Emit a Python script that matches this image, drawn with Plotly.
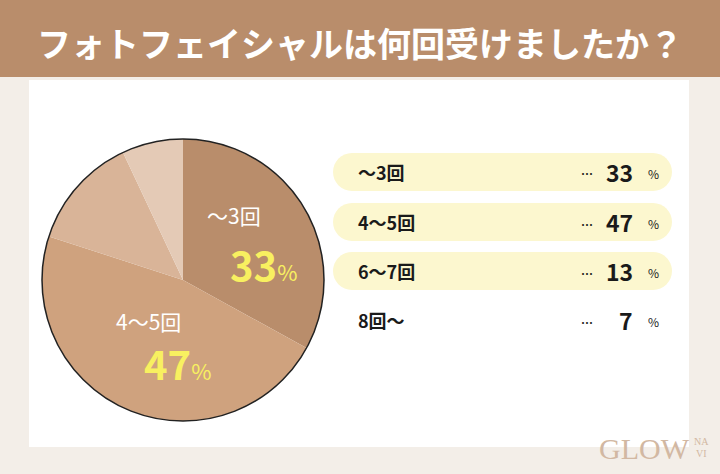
import plotly.graph_objects as go

title_text = "フォトフェイシャルは何回受けましたか？"
categories = ["～3回", "4～5回", "6～7回", "8回～"]
values = [33, 47, 13, 7]
slice_colors = ["#B98D6B", "#CFA27E", "#D9B498", "#E4CAB6"]
pill_rows = [True, True, True, False]

W, H = 720, 474
cx, cy, r = 183, 280, 141

def px(x):
    return x / W

def py(y):
    return 1 - y / H

fig = go.Figure()

dom = dict(x=[px(cx - r), px(cx + r)], y=[py(cy + r), py(cy - r)])
fig.add_trace(go.Pie(
    labels=categories, values=values, sort=False, direction="clockwise",
    rotation=0, marker=dict(colors=slice_colors, line=dict(width=0)),
    textinfo="none", hoverinfo="label+percent", showlegend=False, domain=dom,
))
fig.add_trace(go.Pie(
    labels=["outline"], values=[1], sort=False,
    marker=dict(colors=["rgba(0,0,0,0)"], line=dict(color="#222222", width=1.5)),
    textinfo="none", hoverinfo="skip", showlegend=False, domain=dom,
))

shapes = []
shapes.append(dict(type="rect", xref="paper", yref="paper", x0=px(29), x1=px(689),
                   y0=py(447), y1=py(80), fillcolor="#FFFFFF", line=dict(width=0), layer="below"))
shapes.append(dict(type="rect", xref="paper", yref="paper", x0=0, x1=1,
                   y0=py(77), y1=1, fillcolor="#B98D6B", line=dict(width=0), layer="below"))

row_y = [172, 222, 271, 320]
x0p, x1p, hh = 333, 672, 19
for yy, has_pill in zip(row_y, pill_rows):
    if not has_pill:
        continue
    k = 0.5523 * hh
    path = (f"M {px(x0p+hh)},{py(yy-hh)} L {px(x1p-hh)},{py(yy-hh)} "
            f"C {px(x1p-hh+k)},{py(yy-hh)} {px(x1p)},{py(yy-k)} {px(x1p)},{py(yy)} "
            f"C {px(x1p)},{py(yy+k)} {px(x1p-hh+k)},{py(yy+hh)} {px(x1p-hh)},{py(yy+hh)} "
            f"L {px(x0p+hh)},{py(yy+hh)} "
            f"C {px(x0p+hh-k)},{py(yy+hh)} {px(x0p)},{py(yy+k)} {px(x0p)},{py(yy)} "
            f"C {px(x0p)},{py(yy-k)} {px(x0p+hh-k)},{py(yy-hh)} {px(x0p+hh)},{py(yy-hh)} Z")
    shapes.append(dict(type="path", xref="paper", yref="paper", path=path,
                       fillcolor="#FCF7CF", line=dict(width=0), layer="below"))

JP = "Noto Sans CJK JP"
ann = []
ann.append(dict(x=px(360), y=py(42), xref="paper", yref="paper", text=f"<b>{title_text}</b>",
                showarrow=False, font=dict(family=JP, size=34, color="#FFFFFF"),
                xanchor="center", yanchor="middle"))

ann.append(dict(x=px(234), y=py(215), xref="paper", yref="paper", text=categories[0],
                showarrow=False, font=dict(family=JP, size=21, color="#FFFFFF"),
                xanchor="center", yanchor="middle"))
ann.append(dict(x=px(263), y=py(264), xref="paper", yref="paper",
                text=f"<b>{values[0]}</b><span style='font-size:22px'>%</span>",
                showarrow=False, font=dict(family=JP, size=40, color="#F8F060"),
                xanchor="center", yanchor="middle"))
ann.append(dict(x=px(148), y=py(321), xref="paper", yref="paper", text=categories[1],
                showarrow=False, font=dict(family=JP, size=21, color="#FFFFFF"),
                xanchor="center", yanchor="middle"))
ann.append(dict(x=px(177), y=py(363), xref="paper", yref="paper",
                text=f"<b>{values[1]}</b><span style='font-size:22px'>%</span>",
                showarrow=False, font=dict(family=JP, size=40, color="#F8F060"),
                xanchor="center", yanchor="middle"))

for cat, v, yy in zip(categories, values, row_y):
    ann.append(dict(x=px(356), y=py(yy), xref="paper", yref="paper", text=f"<b>{cat}</b>",
                    showarrow=False, font=dict(family=JP, size=18, color="#1A1A1A"),
                    xanchor="left", yanchor="middle"))
    ann.append(dict(x=px(587), y=py(yy + 2), xref="paper", yref="paper", text="<b>…</b>",
                    showarrow=False, font=dict(family=JP, size=12, color="#1A1A1A"),
                    xanchor="center", yanchor="middle"))
    ann.append(dict(x=px(635), y=py(yy), xref="paper", yref="paper", text=f"<b>{v}</b>",
                    showarrow=False, font=dict(family=JP, size=23, color="#1A1A1A"),
                    xanchor="right", yanchor="middle"))
    ann.append(dict(x=px(653), y=py(yy + 1), xref="paper", yref="paper", text="%",
                    showarrow=False, font=dict(family=JP, size=12, color="#1A1A1A"),
                    xanchor="center", yanchor="middle"))

# logo
ann.append(dict(x=px(692), y=py(448), xref="paper", yref="paper", text="GLOW",
                showarrow=False, font=dict(family="Liberation Serif", size=30, color="#D2B8A2"),
                xanchor="right", yanchor="middle"))
ann.append(dict(x=px(701), y=py(441), xref="paper", yref="paper", text="NA",
                showarrow=False, font=dict(family="Liberation Serif", size=10, color="#D2B8A2"),
                xanchor="center", yanchor="middle"))
ann.append(dict(x=px(701), y=py(453), xref="paper", yref="paper", text="VI",
                showarrow=False, font=dict(family="Liberation Serif", size=10, color="#D2B8A2"),
                xanchor="center", yanchor="middle"))

fig.update_layout(
    width=W, height=H, margin=dict(l=0, r=0, t=0, b=0),
    paper_bgcolor="#F3EEE8", plot_bgcolor="#F3EEE8",
    shapes=shapes, annotations=ann,
)
fig.write_html("out.html", config={"displayModeBar": False},
               post_script="document.body.style.margin='0';document.body.style.overflow='hidden';")
